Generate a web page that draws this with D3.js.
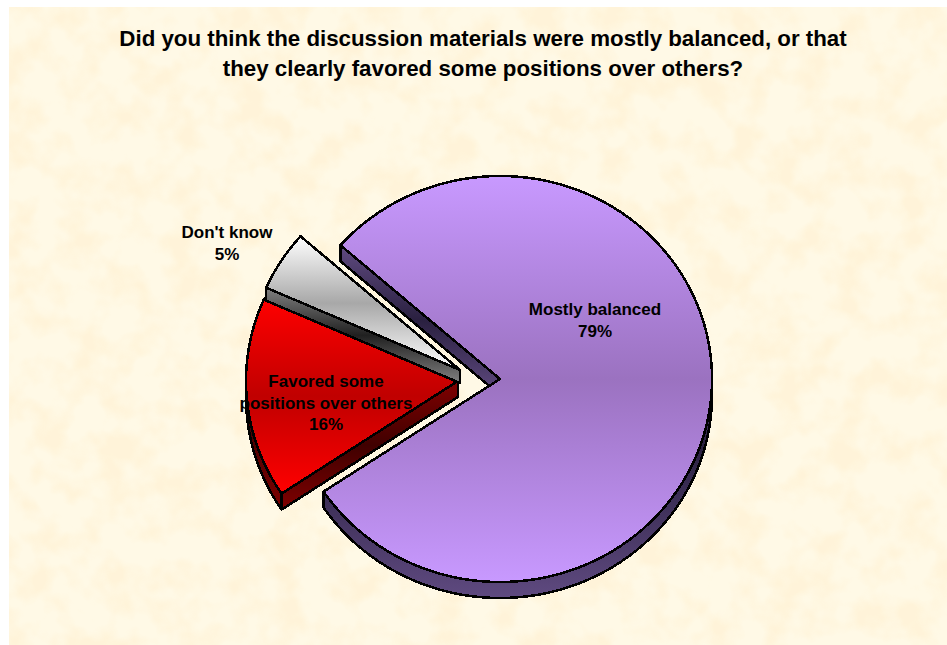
<!DOCTYPE html>
<html><head><meta charset="utf-8">
<script src="https://cdn.jsdelivr.net/npm/d3@7"></script>
<style>html,body{margin:0;padding:0;background:#fff}svg{display:block}text{font-family:"Liberation Sans",Arial,sans-serif;font-weight:bold;fill:#000}</style>
</head><body><svg id="c" width="947" height="645"></svg>
<script>
const categories=["Mostly balanced","Favored some positions over others","Don't know"];
const values=[79.2,16,4.8];
const titleLines=["Did you think the discussion materials were mostly balanced, or that","they clearly favored some positions over others?"];
const labelLines=[["Mostly balanced","79%"],["Favored some","positions over others","16%"],["Don't know","5%"]];
const labelAnchors=[[595,315],[326,387],[227,238]];
const centers=[[500,379],[458,381],[460,370]];
const depths=[16,16,13];
const faceStops=[["#c899ff","#9b72c0"],["#ff0000","#c00000"],["#ffffff","#a8a8a8"]];
const sideStops=[["#5f4a80","#2a2040"],["#800000","#400000"],["#808080","#202020"]];
const rx=212,ry=203,startDeg=-48.8;

const svg=d3.select("#c"),defs=svg.append("defs");
const f=defs.append("filter").attr("id","paper").attr("x",0).attr("y",0).attr("width",1).attr("height",1).attr("color-interpolation-filters","sRGB");
f.append("feTurbulence").attr("type","fractalNoise").attr("baseFrequency",0.03).attr("numOctaves",3).attr("seed",7);
f.append("feColorMatrix").attr("values","0 0 0 0 1  0 0 0 0 0.9  0 0 0 0 0.72  3.2 0 0 0 -1.3");
svg.append("rect").attr("x",9).attr("y",7).attr("width",938).attr("height",638).attr("fill","#fff9e6");
svg.append("rect").attr("x",9).attr("y",7).attr("width",938).attr("height",638).attr("filter","url(#paper)").attr("opacity",0.28);

function grad(id,c0,c1,mid){
  const g=defs.append("linearGradient").attr("id",id).attr("x1",0).attr("y1",0).attr("x2",0).attr("y2",1);
  [[0,c0],[mid,c1],[1,c0]].forEach(s=>g.append("stop").attr("offset",s[0]).attr("stop-color",s[1]));
}
values.forEach((v,i)=>{
  grad("face"+i,faceStops[i][0],faceStops[i][1],0.5);
  grad("side"+i,sideStops[i][0],sideStops[i][1],0.5);
  grad("rim"+i,sideStops[i][0],sideStops[i][1],0.3);
});

const pie=d3.pie().sort(null).value(d=>d).startAngle(startDeg*Math.PI/180).endAngle(startDeg*Math.PI/180+2*Math.PI);
const arcs=pie(values);
const sx=d3.scaleLinear().domain([0,1]).range([0,rx]);
const sy=d3.scaleLinear().domain([0,1]).range([0,ry]);
const px=(i,a)=>centers[i][0]+sx(Math.sin(a));
const py=(i,a,dz=0)=>centers[i][1]-sy(Math.cos(a))+dz;
function facePath(i,d){
  const p=d3.path();
  p.moveTo(centers[i][0],centers[i][1]);
  const n=Math.ceil((d.endAngle-d.startAngle)/0.01);
  d3.range(n+1).forEach(k=>{const a=d.startAngle+(d.endAngle-d.startAngle)*k/n;p.lineTo(px(i,a),py(i,a));});
  p.closePath();return p.toString();
}
function cutPath(i,a){
  const p=d3.path(),h=depths[i];
  p.moveTo(centers[i][0],centers[i][1]);p.lineTo(px(i,a),py(i,a));
  p.lineTo(px(i,a),py(i,a,h));p.lineTo(centers[i][0],centers[i][1]+h);p.closePath();
  return p.toString();
}
function rimPath(i,a0,a1){
  const p=d3.path(),n=Math.ceil((a1-a0)/0.01),h=depths[i];
  d3.range(n+1).forEach(k=>{const a=a0+(a1-a0)*k/n;k?p.lineTo(px(i,a),py(i,a)):p.moveTo(px(i,a),py(i,a));});
  d3.range(n+1).forEach(k=>{const a=a1-(a1-a0)*k/n;p.lineTo(px(i,a),py(i,a,h));});
  p.closePath();return p.toString();
}
const stroke=s=>s.attr("stroke","#000").attr("stroke-width",2.5).attr("stroke-linejoin","round").attr("shape-rendering","crispEdges");
function side(dPath,fill){stroke(svg.append("path").attr("d",dPath).attr("fill",fill));}

const d0=arcs[0];
side(cutPath(0,d0.startAngle),"url(#side0)");
side(rimPath(0,Math.PI/2,d0.endAngle),"url(#rim0)");
stroke(svg.append("path").attr("d",facePath(0,d0)).attr("fill","url(#face0)"));

const d1=arcs[1];
side(rimPath(1,d1.startAngle,Math.min(d1.endAngle,3*Math.PI/2)),"url(#rim1)");
side(cutPath(1,d1.startAngle),"url(#side1)");
stroke(svg.append("path").attr("d",facePath(1,d1)).attr("fill","url(#face1)"));

const d2=arcs[2];
side(cutPath(2,d2.startAngle),"url(#side2)");
stroke(svg.append("path").attr("d",facePath(2,d2)).attr("fill","url(#face2)"));

svg.append("text").attr("text-anchor","middle").attr("font-size",22.3).selectAll("tspan").data(titleLines).join("tspan")
  .attr("x",483).attr("y",(d,i)=>46+i*30).text(d=>d);
labelLines.forEach((ls,i)=>{
  svg.append("text").attr("text-anchor","middle").attr("font-size",17).selectAll("tspan").data(ls).join("tspan")
   .attr("x",labelAnchors[i][0]).attr("y",(d,k)=>labelAnchors[i][1]+k*21.5).text(d=>d);
});
</script></body></html>
